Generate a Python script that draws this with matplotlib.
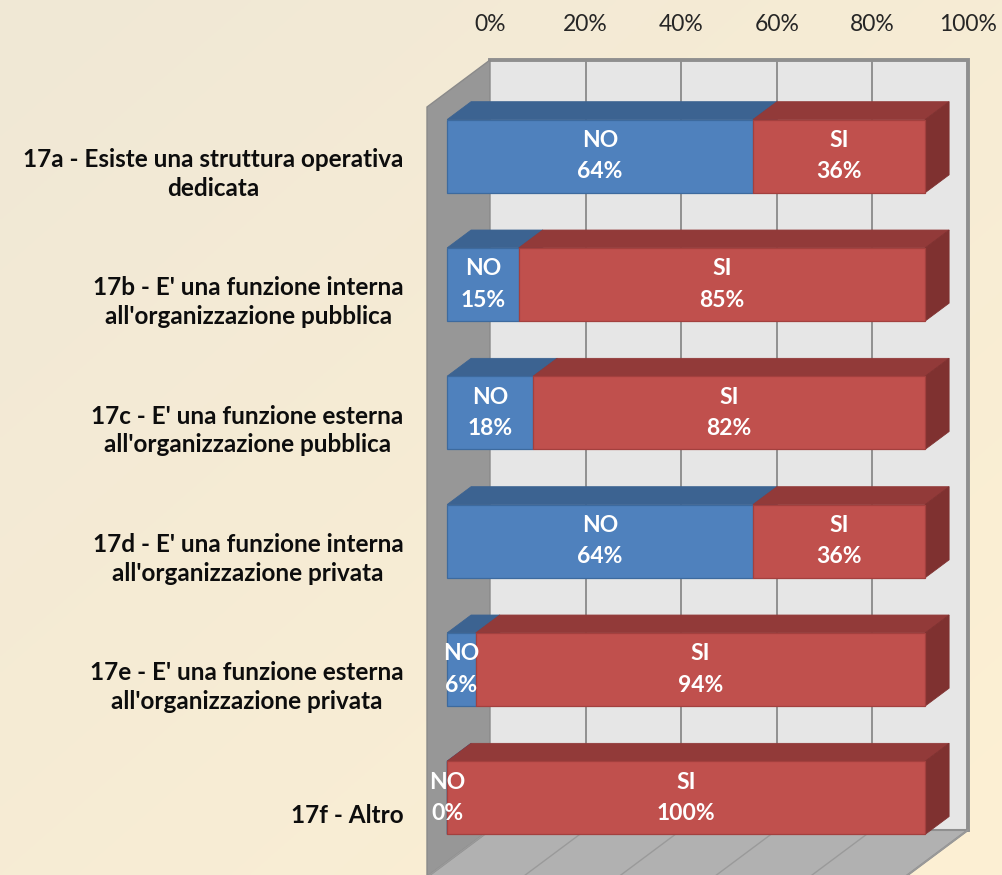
import numpy as np
import matplotlib.pyplot as plt
from matplotlib.patches import Polygon

plt.rcParams['font.family'] = ['Lato', 'DejaVu Sans']

# ---- data ----
categories = [
    "17a - Esiste una struttura operativa\ndedicata",
    "17b - E' una funzione interna\nall'organizzazione pubblica",
    "17c - E' una funzione esterna\nall'organizzazione pubblica",
    "17d - E' una funzione interna\nall'organizzazione privata",
    "17e - E' una funzione esterna\nall'organizzazione privata",
    "17f - Altro",
]
no_pct = [64, 15, 18, 64, 6, 0]
si_pct = [36, 85, 82, 36, 94, 100]
series_names = ['NO', 'SI']
x_ticks = [0, 20, 40, 60, 80, 100]

# colours per series: front, top, side, edge
blue = ('#4f81bd', '#3c6391', '#365a86', '#3d6a9e')
red = ('#c0504d', '#923a39', '#7f3130', '#a3403e')

W, H = 1002, 875
fig = plt.figure(figsize=(W / 100, H / 100), dpi=100)

# background gradient
bg = fig.add_axes([0, 0, 1, 1], zorder=-5)
gx, gy = np.meshgrid(np.linspace(0, 1, 300), np.linspace(0, 1, 300))
t = (gx + gy) / 2
c0 = np.array([0xf0, 0xe8, 0xd6]) / 255
c1 = np.array([0xfd, 0xf0, 0xd3]) / 255
bg.imshow(c0 + (c1 - c0) * t[..., None], extent=[0, 1, 0, 1], aspect='auto', origin='upper')
bg.axis('off')

# back wall = axes area
ax = fig.add_axes([490 / W, 1 - 830 / H, 478 / W, 770 / H])
n = len(categories)
ax.set_xlim(0, 100)
ax.set_ylim(n - 0.5, -0.5)
ax.patch.set_facecolor('#e6e6e6')
for s in ax.spines.values():
    s.set_visible(False)
ax.xaxis.tick_top()
ax.set_xticks(x_ticks, [f'{v}%' for v in x_ticks])
ax.tick_params(axis='x', length=0, pad=18, labelsize=16.5, labelcolor='#262626')
ax.set_yticks([])

# depth vector (back wall -> front), in data units
DX = -63 * 100 / 478
DY = 47 * n / 770
z0, z1 = 0.30, 0.68
h = 0.57


def proj(x, y, z):
    return (x + z * DX, y + z * DY)


# gridlines on back wall
for v in x_ticks[1:-1]:
    ax.plot([v, v], [-0.5, n - 0.5], color='#8a8a8a', lw=1.3, zorder=1)
ax.plot([0, 100, 100], [-0.5, -0.5, n - 0.5], color='#8f8f8f', lw=2.8,
        clip_on=False, zorder=1, solid_joinstyle='miter')

# side wall
ax.add_patch(Polygon([(0, -0.5), (0, n - 0.5), proj(0, n - 0.5, 1), proj(0, -0.5, 1)],
                     facecolor='#979797', edgecolor='#8a8a8a', lw=1, clip_on=False, zorder=2))
# floor
ax.add_patch(Polygon([(0, n - 0.5), (100, n - 0.5), proj(100, n - 0.5, 1), proj(0, n - 0.5, 1)],
                     facecolor='#b1b1b1', edgecolor='#8f8f8f', lw=1.5, clip_on=False, zorder=2))
for v in x_ticks:
    x2, y2 = proj(v, n - 0.5, 1)
    ax.plot([v, x2], [n - 0.5, y2], color='#9a9a9a', lw=1, clip_on=False, zorder=2)

# 3D bars
for i in range(n):
    left = 0
    top, bot = i - h / 2, i + h / 2
    for name, val, col in zip(series_names, [no_pct[i], si_pct[i]], [blue, red]):
        right = left + val
        topface = [proj(left, top, z0), proj(right, top, z0), proj(right, top, z1), proj(left, top, z1)]
        side = [proj(right, top, z0), proj(right, bot, z0), proj(right, bot, z1), proj(right, top, z1)]
        front = [proj(left, top, z1), proj(right, top, z1), proj(right, bot, z1), proj(left, bot, z1)]
        ax.add_patch(Polygon(topface, facecolor=col[1], edgecolor=col[1], lw=0.6, clip_on=False, zorder=3))
        ax.add_patch(Polygon(side, facecolor=col[2], edgecolor=col[2], lw=0.6, clip_on=False, zorder=3))
        ax.add_patch(Polygon(front, facecolor=col[0], edgecolor=col[3], lw=0.9, clip_on=False, zorder=3))
        cx, cy = proj((left + right) / 2, i, z1)
        ax.text(cx, cy, f'{name}\n{val}%', ha='center', va='center', color='white',
                fontsize=16.5, fontweight='bold', linespacing=1.6, zorder=5, clip_on=False)
        left = right

# category labels at the front plane
for i, cat in enumerate(categories):
    ax.annotate(cat, xy=proj(0, i, 1), xytext=(-17, -2), textcoords='offset points',
                ha='right', va='center', multialignment='center', fontsize=17.5,
                fontweight='bold', color='#0d0d0d', linespacing=1.3, annotation_clip=False)

fig.savefig('out.png', dpi=100)
